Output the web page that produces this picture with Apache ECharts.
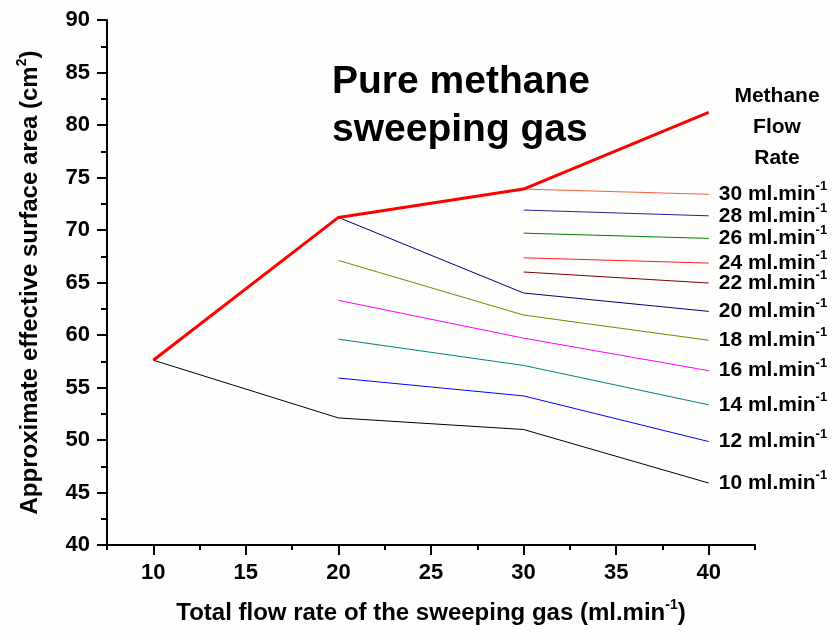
<!DOCTYPE html>
<html>
<head>
<meta charset="utf-8">
<script src="https://cdn.jsdelivr.net/npm/echarts@6/dist/echarts.min.js"></script>
<style>
  html, body { margin: 0; padding: 0; background: #fefefc; }
  #chart { width: 833px; height: 637px; }
</style>
</head>
<body>
<div id="chart"></div>
<script>
// data
var xMajor = [10, 15, 20, 25, 30, 35, 40];
var xMinor = [7.5, 12.5, 17.5, 22.5, 27.5, 32.5, 37.5, 42.5];

// pure methane line (thick red)
var pureX = [10, 20, 30, 40];
var pureY = [57.6, 71.2, 73.9, 81.2];

// methane flow rate lines
var flowRates = [10, 12, 14, 16, 18, 20, 22, 24, 26, 28, 30];
var flowX = [
  [10, 20, 30, 40],
  [20, 30, 40],
  [20, 30, 40],
  [20, 30, 40],
  [20, 30, 40],
  [20, 30, 40],
  [30, 40],
  [30, 40],
  [30, 40],
  [30, 40],
  [30, 40]
];
var flowY = [
  [57.6, 52.1, 51.0, 45.9],
  [55.9, 54.2, 49.85],
  [59.6, 57.1, 53.35],
  [63.3, 59.7, 56.6],
  [67.1, 61.9, 59.5],
  [71.2, 64.0, 62.25],
  [66.0, 64.95],
  [67.35, 66.85],
  [69.7, 69.2],
  [71.9, 71.35],
  [73.9, 73.4]
];
var flowColors = ['#000000', '#0000ff', '#008080', '#ff00ff', '#808000', '#000080',
                  '#800000', '#ff2020', '#008000', '#22229a', '#f5603c'];

var font = 'Arial, "Liberation Sans", sans-serif';

function pairs(xs, ys) {
  var out = [];
  for (var i = 0; i < xs.length; i++) out.push([xs[i], ys[i]]);
  return out;
}

var series = [];
for (var k = 0; k < flowRates.length; k++) {
  series.push({
    name: flowRates[k] + ' ml.min-1',
    type: 'line',
    data: pairs(flowX[k], flowY[k]),
    symbol: 'none',
    lineStyle: { width: 1, color: flowColors[k] },
    itemStyle: { color: flowColors[k] },
    endLabel: {
      show: true,
      distance: 10,
      formatter: (function (r) { return function () { return '{a|' + r + ' ml.min}{b|-1}'; }; })(flowRates[k]),
      rich: {
        a: { fontFamily: font, fontWeight: 'bold', fontSize: 21, color: '#000' },
        b: { fontFamily: font, fontWeight: 'bold', fontSize: 13, color: '#000', padding: [0, 0, 15, 0] }
      }
    }
  });
}
series.push({
  name: 'Pure methane',
  type: 'line',
  data: pairs(pureX, pureY),
  symbol: 'none',
  lineStyle: { width: 3, color: '#ff0000' },
  itemStyle: { color: '#ff0000' },
  z: 5
});

var option = {
  animation: false,
  backgroundColor: '#fefefc',
  grid: { left: 107, right: 78, top: 20, bottom: 92 },
  xAxis: [
    {
      type: 'value',
      min: 7.5,
      max: 42.5,
      name: 'Total flow rate of the sweeping gas (ml.min{s|-1})',
      nameLocation: 'middle',
      nameGap: 53,
      nameTextStyle: {
        fontFamily: font, fontWeight: 'bold', fontSize: 24, color: '#000',
        rich: { s: { fontFamily: font, fontWeight: 'bold', fontSize: 14, color: '#000', padding: [0, 0, 16, 0] } }
      },
      splitLine: { show: false },
      axisLine: { lineStyle: { color: '#000', width: 2 } },
      axisTick: { customValues: xMajor, length: 10, lineStyle: { color: '#000', width: 2 } },
      axisLabel: { customValues: xMajor, margin: 17, fontFamily: font, fontWeight: 'bold', fontSize: 22, color: '#000' }
    },
    {
      type: 'value',
      min: 7.5,
      max: 42.5,
      position: 'bottom',
      splitLine: { show: false },
      axisLine: { show: false },
      axisTick: { customValues: xMinor, length: 5, lineStyle: { color: '#000', width: 2 } },
      axisLabel: { show: false }
    }
  ],
  yAxis: {
    type: 'value',
    min: 40,
    max: 90,
    interval: 5,
    name: 'Approximate effective surface area (cm{s|2})',
    nameLocation: 'middle',
    nameGap: 62,
    nameTextStyle: {
      fontFamily: font, fontWeight: 'bold', fontSize: 24, color: '#000',
      rich: { s: { fontFamily: font, fontWeight: 'bold', fontSize: 14, color: '#000', padding: [0, 0, 16, 0] } }
    },
    splitLine: { show: false },
    axisLine: { show: true, lineStyle: { color: '#000', width: 2 } },
    axisTick: { show: true, length: 10, lineStyle: { color: '#000', width: 2 } },
    minorTick: { show: true, splitNumber: 2, length: 6, lineStyle: { color: '#000', width: 2 } },
    axisLabel: { margin: 17, fontFamily: font, fontWeight: 'bold', fontSize: 22, color: '#000' }
  },
  graphic: [
    { type: 'text', x: 332, y: 82, style: { text: 'Pure methane', font: 'bold 39px ' + font, fill: '#000', align: 'left', verticalAlign: 'middle' } },
    { type: 'text', x: 332, y: 130, style: { text: 'sweeping gas', font: 'bold 39px ' + font, fill: '#000', align: 'left', verticalAlign: 'middle' } },
    { type: 'text', x: 777, y: 96, style: { text: 'Methane', font: 'bold 21px ' + font, fill: '#000', align: 'center', verticalAlign: 'middle' } },
    { type: 'text', x: 777, y: 127, style: { text: 'Flow', font: 'bold 21px ' + font, fill: '#000', align: 'center', verticalAlign: 'middle' } },
    { type: 'text', x: 777, y: 158, style: { text: 'Rate', font: 'bold 21px ' + font, fill: '#000', align: 'center', verticalAlign: 'middle' } }
  ],
  series: series
};

var myChart = echarts.init(document.getElementById('chart'));
myChart.setOption(option);
</script>
</body>
</html>
